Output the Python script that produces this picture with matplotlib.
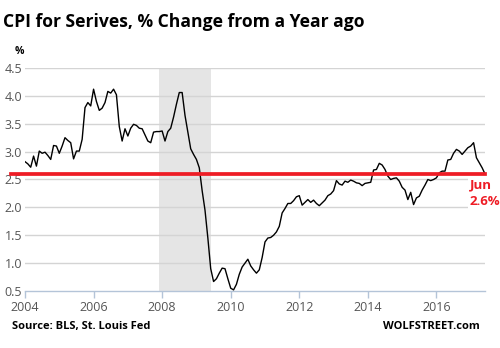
import matplotlib
matplotlib.use('Agg')
import matplotlib.pyplot as plt
import numpy as np

# CPI for services, year-over-year % change, monthly Jan 2004 - Jun 2017
cpi_2004 = [2.82, 2.78, 2.72, 2.92, 2.74, 3.01, 2.97, 2.99, 2.93, 2.86, 3.11, 3.10]
cpi_2005 = [2.97, 3.10, 3.25, 3.20, 3.16, 2.87, 3.01, 3.01, 3.22, 3.79, 3.88, 3.82]
cpi_2006 = [4.12, 3.90, 3.74, 3.78, 3.88, 4.08, 4.05, 4.12, 4.02, 3.45, 3.19, 3.41]
cpi_2007 = [3.28, 3.42, 3.49, 3.47, 3.42, 3.41, 3.30, 3.19, 3.16, 3.35, 3.36, 3.36]
cpi_2008 = [3.37, 3.19, 3.36, 3.42, 3.62, 3.85, 4.06, 4.06, 3.65, 3.35, 3.05, 2.95]
cpi_2009 = [2.86, 2.71, 2.30, 1.95, 1.45, 0.90, 0.67, 0.72, 0.82, 0.91, 0.90, 0.72]
cpi_2010 = [0.55, 0.52, 0.62, 0.80, 0.93, 1.00, 1.07, 0.95, 0.88, 0.82, 0.88, 1.10]
cpi_2011 = [1.38, 1.45, 1.46, 1.50, 1.56, 1.66, 1.90, 1.98, 2.07, 2.07, 2.12, 2.19]
cpi_2012 = [2.21, 2.04, 2.09, 2.14, 2.09, 2.13, 2.07, 2.03, 2.08, 2.13, 2.21, 2.24]
cpi_2013 = [2.30, 2.48, 2.42, 2.40, 2.47, 2.45, 2.49, 2.47, 2.44, 2.43, 2.39, 2.43]
cpi_2014 = [2.44, 2.45, 2.67, 2.68, 2.79, 2.76, 2.68, 2.56, 2.50, 2.52, 2.53, 2.47]
cpi_2015 = [2.36, 2.31, 2.14, 2.27, 2.05, 2.17, 2.20, 2.31, 2.40, 2.50, 2.48, 2.50]
cpi_2016 = [2.53, 2.62, 2.65, 2.65, 2.85, 2.86, 2.97, 3.04, 3.01, 2.95, 3.01, 3.07]
cpi_2017 = [3.10, 3.16, 2.89, 2.80, 2.71, 2.6]

cpi = (cpi_2004 + cpi_2005 + cpi_2006 + cpi_2007 + cpi_2008 + cpi_2009 + cpi_2010
       + cpi_2011 + cpi_2012 + cpi_2013 + cpi_2014 + cpi_2015 + cpi_2016 + cpi_2017)
start_year = 2004
years = start_year + np.arange(len(cpi)) / 12.0

# recession Dec 2007 - Jun 2009
recession = (2007 + 11 / 12, 2009 + 5 / 12)

latest = cpi[-1]
latest_label = 'Jun'
x_ticks = [2004, 2006, 2008, 2010, 2012, 2014, 2016]
y_ticks = [0.5, 1.0, 1.5, 2.0, 2.5, 3.0, 3.5, 4.0, 4.5]

plt.rcParams['font.family'] = ['Open Sans', 'DejaVu Sans']

fig = plt.figure(figsize=(5.0, 3.48), dpi=100)
ax = fig.add_axes([0.05, 0.1638, 0.92, 0.6408])

ax.axvspan(recession[0], recession[1], color='#e5e5e5', lw=0, zorder=0)
for y in y_ticks[1:]:
    ax.axhline(y, color='#d4d4d4', lw=1.0, zorder=1)

ax.plot(years, cpi, color='black', lw=1.0, zorder=3)
ax.axhline(latest, xmin=-0.03, xmax=1.0, color='#ee1c25', lw=2.7,
           clip_on=False, zorder=4)

ax.set_xlim(start_year, years[-1])
ax.set_ylim(0.5, 4.5)
ax.set_xticks(x_ticks)
ax.set_yticks(y_ticks)
ax.set_yticklabels(['%.1f' % v for v in y_ticks])
ax.tick_params(axis='x', colors='#b4c4d8', length=5, width=1.0, labelsize=9,
               labelcolor='#555555', pad=2)
ax.tick_params(axis='y', length=0, labelsize=9, labelcolor='#555555', pad=2)

for side in ['top', 'right', 'left']:
    ax.spines[side].set_visible(False)
ax.spines['bottom'].set_color('#b4c4d8')
ax.spines['bottom'].set_linewidth(1.0)

ax.text(years[-1] - 0.45, latest - 0.08, latest_label + '\n%.1f%%' % latest,
        color='#ee1c25', fontsize=9.5, fontweight='bold', ha='left', va='top',
        linespacing=1.35, clip_on=False,
        bbox=dict(facecolor='white', edgecolor='none', pad=1.0))

fig.text(0.006, 0.936, 'CPI for Serives, % Change from a Year ago',
         fontsize=12.6, fontweight='bold', ha='left', va='center')
fig.text(0.03, 0.853, '%', fontsize=7.5, fontweight='bold', ha='left', va='center')
fig.text(0.024, 0.061, 'Source: BLS, St. Louis Fed', fontsize=8,
         fontweight='bold', ha='left', va='center')
fig.text(0.96, 0.061, 'WOLFSTREET.com', fontsize=8, fontweight='bold',
         ha='right', va='center')

fig.savefig('out.png', dpi=100)
